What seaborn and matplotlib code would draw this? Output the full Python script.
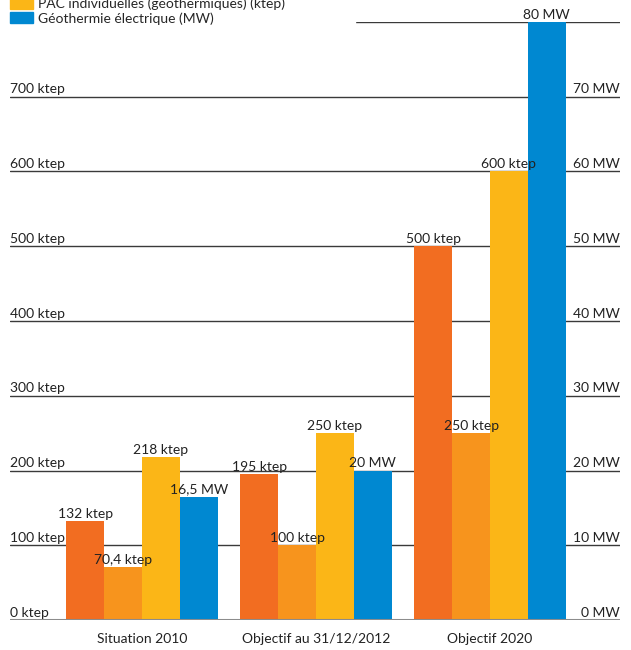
import pandas as pd
import matplotlib.pyplot as plt
import seaborn as sns

# chart values
categories = ["Situation 2010", "Objectif au 31/12/2012", "Objectif 2020"]
series = ["Réseaux de chaleur géothermiques (ktep)",
          "PAC collectives (géothermiques) (ktep)",
          "PAC individuelles (géothermiques) (ktep)",
          "Géothermie électrique (MW)"]
reseaux_ktep = [132, 195, 500]
pac_coll_ktep = [70.4, 100, 250]
pac_indiv_ktep = [218, 250, 600]
elec_mw = [16.5, 20, 80]
ktep_ticks = [0, 100, 200, 300, 400, 500, 600, 700]
mw_ticks = [0, 10, 20, 30, 40, 50, 60, 70]

colors = ["#F26D21", "#F7941D", "#FBB617", "#0088D1"]


def fmt(v, unit):
    s = ("%g" % v).replace(".", ",")
    return s + " " + unit


# long table, MW drawn on the ktep scale (10 MW = 100 ktep)
rows = []
for vals, name, k in [(reseaux_ktep, series[0], 1), (pac_coll_ktep, series[1], 1),
                      (pac_indiv_ktep, series[2], 1), (elec_mw, series[3], 10)]:
    for cat, v in zip(categories, vals):
        rows.append({"cat": cat, "serie": name, "hauteur": v * k})
df = pd.DataFrame(rows)

sns.set_style("white")
plt.rcParams['font.family'] = ['Lato', 'DejaVu Sans']

fig = plt.figure(figsize=(6.31, 6.5), dpi=100)
ax = fig.add_axes([10 / 631, 30 / 650, 610 / 631, 598 / 650])

sns.barplot(data=df, x="cat", y="hauteur", hue="serie", hue_order=series,
            order=categories, palette=colors, width=0.87, saturation=1,
            linewidth=0, ax=ax, zorder=3)

ax.set_ylim(0, 800)
ax.set_xlim(-0.7586, 2.7471)
ax.set_yticks(ktep_ticks[1:] + [800])
ax.grid(axis="y", color="#3a3a3a", lw=1, zorder=1)
ax.axhline(0, color="#8c8c8c", lw=2.2, zorder=4)
ax.tick_params(left=False, bottom=False, labelleft=False, pad=6)
ax.set_xlabel("")
ax.set_ylabel("")
for s in ax.spines.values():
    s.set_visible(False)
for lab in ax.get_xticklabels():
    lab.set_fontsize(10)
    lab.set_color("#222222")

tr = ax.get_yaxis_transform()
for t, m in zip(ktep_ticks, mw_ticks):
    ax.text(0, t + 2, "%d ktep" % t, transform=tr, ha="left", va="bottom",
            fontsize=10, color="#222222", zorder=5)
    ax.text(1, t + 2, "%d MW" % m, transform=tr, ha="right", va="bottom",
            fontsize=10, color="#222222", zorder=5)

# value labels
all_labels = [[fmt(v, "ktep") for v in reseaux_ktep],
              [fmt(v, "ktep") for v in pac_coll_ktep],
              [fmt(v, "ktep") for v in pac_indiv_ktep],
              [fmt(v, "MW") for v in elec_mw]]
for cont, labs in zip(ax.containers, all_labels):
    ax.bar_label(cont, labels=labs, padding=1, fontsize=10, color="#222222", zorder=6)

ax.get_legend().remove()
handles = [plt.Rectangle((0, 0), 1, 1, color=c) for c in colors]
fig.legend(handles, series, loc="lower left", bbox_to_anchor=(0.012, 0.958, 0.55, 0.1),
           mode="expand", ncol=1, frameon=True, facecolor="white", edgecolor="white",
           framealpha=1, fancybox=False, fontsize=10, handlelength=1.6, handleheight=0.9,
           handletextpad=0.4, labelspacing=0.15, borderpad=0.2, borderaxespad=0)

fig.savefig("out.png", dpi=100)
